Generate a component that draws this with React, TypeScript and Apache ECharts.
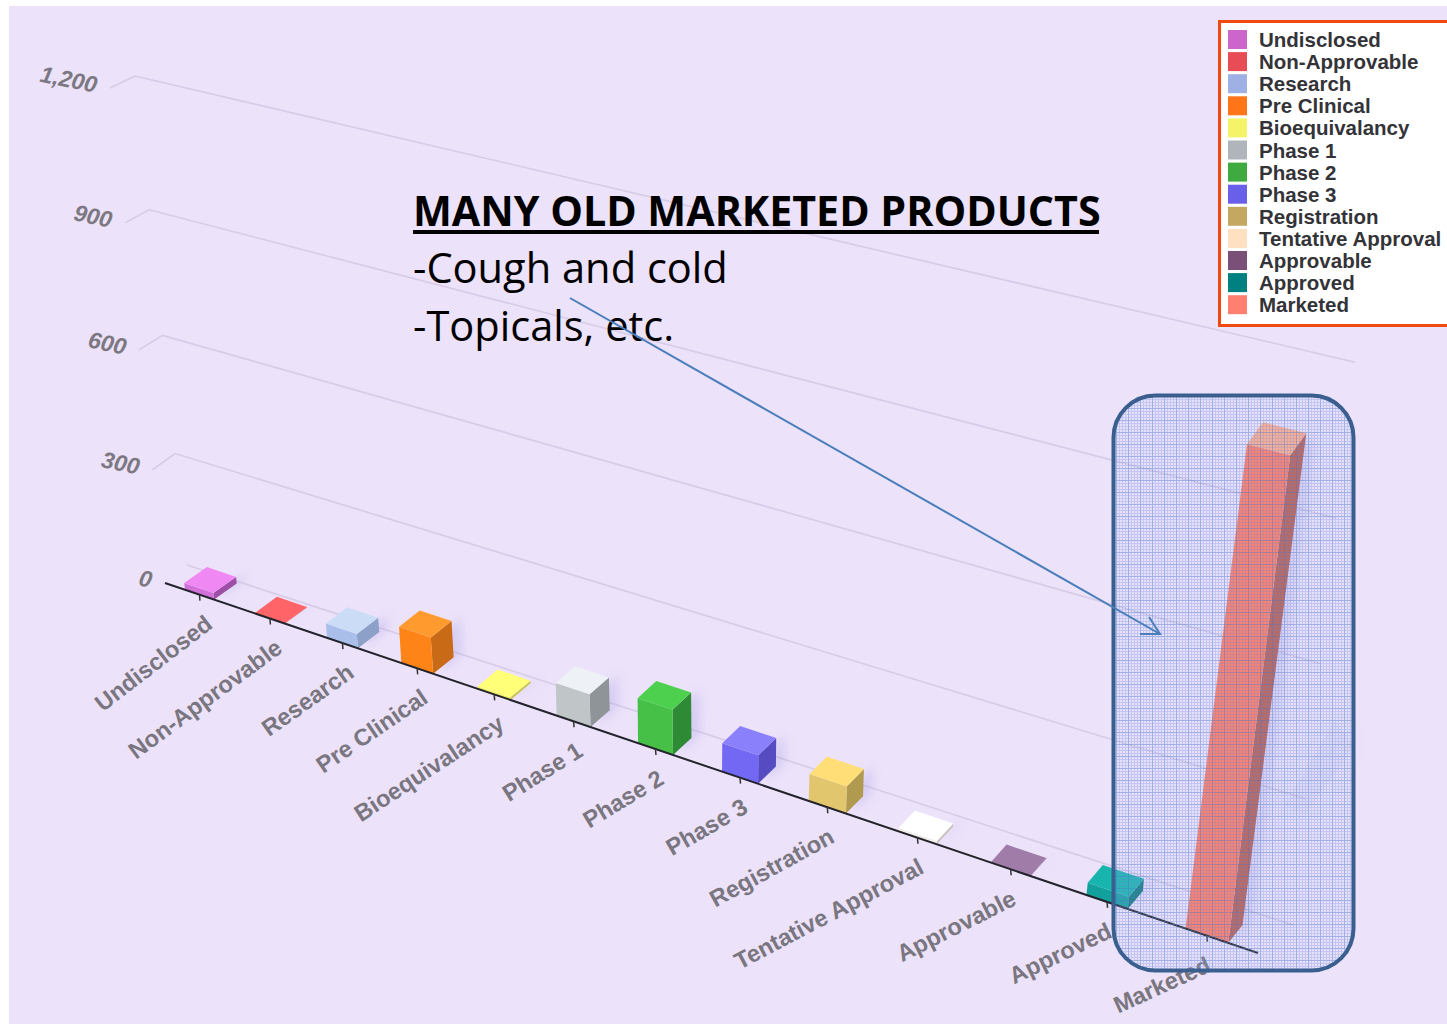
import React, { useEffect, useRef } from "react";
import * as echarts from "echarts";

const categories = ["Undisclosed", "Non-Approvable", "Research", "Pre Clinical", "Bioequivalancy", "Phase 1", "Phase 2", "Phase 3", "Registration", "Tentative Approval", "Approvable", "Approved", "Marketed"];
const values = [18, 1, 38, 95, 7, 84, 115, 72, 68, 8, 1, 30, 1052];
const legendColors = ["#CC66CC", "#E84C55", "#9FB0E4", "#FF7518", "#F5F368", "#B0B5BC", "#3FAA3F", "#6A5FE8", "#C4A862", "#FFE0C0", "#7B5078", "#008080", "#FF8070"];
const frontColors = ["#D070D8", "#F2565E", "#A9BFEA", "#FF8418", "#F4EE60", "#C0C5C8", "#46C046", "#7268F4", "#E2C66E", "#F4EEE8", "#94709C", "#12A09C", "#FF7A62"];
const topColors = ["#F088F4", "#FF6468", "#CBDDF6", "#FF9A2E", "#FFFF78", "#EEF2F6", "#4CD04E", "#8A80FC", "#FFDE78", "#FFFFFF", "#A07CA8", "#18B4AE", "#FFAC8C"];
const sideColors = ["#9C50A4", "#C84048", "#8CA0C8", "#C86A14", "#C8C450", "#8E9498", "#2E8A34", "#564CC0", "#B09A50", "#C8C2BC", "#705078", "#0C7A78", "#B85C50"];
const yTicks = [0, 300, 600, 900, 1200];
const yTickLabels = ["0", "300", "600", "900", "1,200"];

type P = [number, number];

// perspective plane: unit square (u along categories, v up the value axis) -> screen
function planeFromCoefficients(p0: P, p1: P, p3: P, g: number, h: number, kx = 0, ky = 0) {
  const a = p1[0] * (1 + g) - p0[0];
  const b = p3[0] * (1 + h) - p0[0];
  const d = p1[1] * (1 + g) - p0[1];
  const e = p3[1] * (1 + h) - p0[1];
  return (u: number, v: number): P => {
    const w = 1 + g * u + h * v;
    return [(a * u + b * v + p0[0]) / w + kx * u * v, (d * u + e * v + p0[1]) / w + ky * u * v];
  };
}
const front = planeFromCoefficients([165, 583], [1258, 953], [110, 88], -0.186, -0.11, -21, 0);
const back = planeFromCoefficients([187, 565], [1293, 925], [135, 76], -0.16, -0.115, -50, -23);

// how far one bar reaches backwards on screen
function depth(u: number, v: number): P {
  const bottom: P = [23 + (14 - 23) * u, -16 + (-18 + 16) * u];
  const top: P = [24 + (16 - 24) * u, -12 + (-23 + 12) * u];
  return [bottom[0] + (top[0] - bottom[0]) * v, bottom[1] + (top[1] - bottom[1]) * v];
}

const unit = (api: any, params: any, cat: number, val: number): P => {
  const r = params.coordSys;
  const c = api.coord([cat, val]);
  return [(c[0] - r.x) / r.width, (r.y + r.height - c[1]) / r.height];
};

function barRender(index: number) {
  return (params: any, api: any) => {
    const val = api.value(1);
    const [u, v] = unit(api, params, index, val);
    const half = (0.42 * api.size([1, 0])[0] / params.coordSys.width) / 2;
    const halfTop = half * (1 - 0.12 * v);
    const fbl = front(u - half, 0);
    const fbr = front(u + half, 0);
    const ftl = front(u - halfTop, v);
    const ftr = front(u + halfTop, v);
    const dB = depth(u, 0);
    const dT = depth(u, v);
    const add = (p: P, d: P): number[] => [p[0] + d[0], p[1] + d[1]];
    return {
      type: "group",
      children: [
        {
          type: "polygon",
          shape: { points: [fbr, add(fbr, dB), add(ftr, dT), ftr] },
          style: { fill: sideColors[index], shadowBlur: 10, shadowColor: "rgba(140,130,215,0.22)", shadowOffsetX: 9, shadowOffsetY: -3 },
        },
        { type: "polygon", shape: { points: [fbl, fbr, ftr, ftl] }, style: { fill: frontColors[index] } },
        { type: "polygon", shape: { points: [ftl, ftr, add(ftr, dT), add(ftl, dT)] }, style: { fill: topColors[index] } },
      ],
    };
  };
}

function gridRender(params: any, api: any) {
  const val = api.value(0);
  const [, v] = unit(api, params, 0, val);
  const label = yTickLabels[yTicks.indexOf(val)];
  const f0 = front(0, v);
  const b0 = back(0, v);
  const b1 = back(1, v);
  const line = "rgba(150,135,170,0.24)";
  return {
    type: "group",
    children: [
      { type: "polyline", shape: { points: val === 0 ? [b0, b1] : [f0, b0, b1] }, style: { fill: "none", stroke: line, lineWidth: 1.6 } },
      {
        type: "text",
        x: f0[0] - 13,
        y: f0[1] - 3,
        rotation: -0.2,
        style: { text: label, align: "right", verticalAlign: "middle", font: "italic bold 23px 'Liberation Sans'", fill: "#7C7882" },
      },
    ],
  };
}

function baseRender(params: any, api: any) {
  const idx = api.value(0);
  const [u] = unit(api, params, idx, 0);
  const t = front(u, 0);
  const rotationDeg = 38 + (24 - 38) * u;
  return {
    type: "group",
    children: [
      { type: "line", shape: { x1: t[0], y1: t[1], x2: t[0] + 0.5, y2: t[1] + 6 }, style: { stroke: "#333", lineWidth: 1.5 } },
      {
        type: "text",
        x: t[0] + 10 - 8 * u,
        y: t[1] + 26 + 2 * u,
        rotation: (rotationDeg * Math.PI) / 180,
        style: { text: categories[idx], align: "right", verticalAlign: "middle", font: "bold 23.6px 'Liberation Sans'", fill: "#7A7680" },
      },
    ],
  };
}

function axisLineRender(params: any, api: any) {
  const a = front(0, 0);
  const b = front(1, 0);
  return { type: "line", shape: { x1: a[0], y1: a[1], x2: b[0], y2: b[1] }, style: { stroke: "#23232B", lineWidth: 2 } };
}

function hatch() {
  const c = document.createElement("canvas");
  c.width = 12;
  c.height = 12;
  const g = c.getContext("2d")!;
  for (let x = 0; x < 12; x++) {
    for (let y = 0; y < 12; y++) {
      const strong = x % 12 === 0 || y % 12 === 0;
      const lined = x % 3 === 0 || y % 3 === 0;
      g.fillStyle = strong ? "rgba(90,130,205,0.52)" : lined ? "rgba(120,150,225,0.36)" : "rgba(190,205,245,0.12)";
      g.fillRect(x, y, 1, 1);
    }
  }
  return c;
}

export default function App() {
  const ref = useRef<HTMLDivElement>(null);
  useEffect(() => {
    const chart = echarts.init(ref.current!, null, { renderer: "svg" });
    const head = "'Open Sans'";
    chart.setOption({
      animation: false,
      backgroundColor: "#FFFFFF",
      grid: { left: 0, top: 0, width: 1000, height: 1000, show: false },
      xAxis: { type: "category", data: categories, show: false },
      yAxis: { type: "value", min: 0, max: 1200, interval: 300, show: false },
      legend: {
        orient: "vertical",
        left: 1228,
        top: 29,
        padding: 0,
        itemWidth: 19,
        itemHeight: 19,
        itemGap: 1.1,
        icon: "rect",
        data: categories,
        selectedMode: false,
        textStyle: { fontFamily: "Liberation Sans", fontWeight: "bold", fontSize: 20.5, lineHeight: 19, color: "#333338", padding: [0, 0, 0, 7] },
        z: 30,
      },
      graphic: [
        { type: "rect", z: -10, shape: { x: 9, y: 6, width: 1438, height: 1018 }, style: { fill: "#ECE2FA" } },
        { type: "rect", z: 20, shape: { x: 1219.5, y: 21.5, width: 240, height: 304 }, style: { fill: "#FFFFFF", stroke: "#F04A10", lineWidth: 3 } },
        { type: "polygon", z: 5, shape: { points: [[1285, 805], [1335, 720], [1355, 745], [1305, 815]] }, style: { fill: "rgba(135,150,215,0.07)", shadowBlur: 26, shadowColor: "rgba(135,150,215,0.35)" } },
        { type: "rect", z: 10, shape: { x: 1113.5, y: 395.5, width: 240, height: 575, r: 42 }, style: { fill: { image: hatch(), repeat: "repeat" }, stroke: "#3A5F8F", lineWidth: 4 } },
        { type: "text", z: 12, x: 413, y: 189, style: { text: "MANY OLD MARKETED PRODUCTS", verticalAlign: "top", font: `bold 41.2px ${head}`, fill: "#000" } },
        { type: "rect", z: 12, shape: { x: 413, y: 230, width: 686, height: 4 }, style: { fill: "#000" } },
        { type: "text", z: 12, x: 413, y: 246, style: { text: "-Cough and cold", verticalAlign: "top", font: `41.6px ${head}`, fill: "#000" } },
        { type: "text", z: 12, x: 413, y: 304, style: { text: "-Topicals, etc.", verticalAlign: "top", font: `41.6px ${head}`, fill: "#000" } },
        { type: "line", z: 13, shape: { x1: 570, y1: 298, x2: 1160, y2: 634 }, style: { stroke: "#4A7EBB", lineWidth: 2 } },
        { type: "polyline", z: 13, shape: { points: [[1149, 617], [1160, 634], [1140, 634]] }, style: { fill: "none", stroke: "#4A7EBB", lineWidth: 2 } },
      ],
      series: [
        { type: "custom", name: "grid", silent: true, z: 1, data: yTicks.map((t) => [t]), encode: { x: -1, y: 0 }, renderItem: gridRender },
        ...categories.map((name, i) => ({
          type: "custom",
          name,
          silent: true,
          z: 2,
          itemStyle: { color: legendColors[i] },
          data: [[i, values[i]]],
          encode: { x: 0, y: 1 },
          renderItem: barRender(i),
        })),
        { type: "custom", name: "axis", silent: true, z: 3, data: [[0]], encode: { x: 0 }, renderItem: axisLineRender },
        { type: "custom", name: "ticks", silent: true, z: 3, data: categories.map((_, i) => [i]), encode: { x: 0 }, renderItem: baseRender },
      ],
    });
    return () => chart.dispose();
  }, []);
  return <div ref={ref} style={{ position: "fixed", left: 0, top: 0, width: 1447, height: 1025 }} />;
}
